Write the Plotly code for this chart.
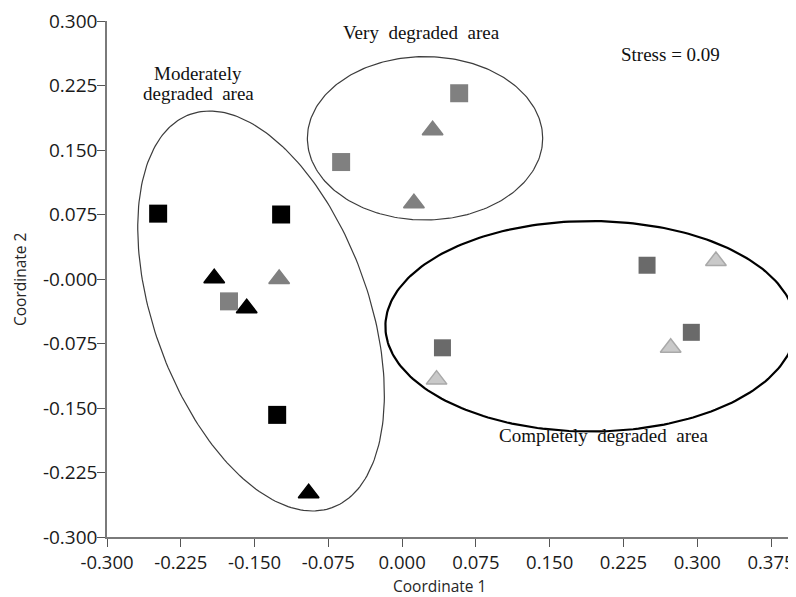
import numpy as np
import plotly.graph_objects as go

# ---------------- data ----------------
mod_sq_x = [-0.248, -0.123, -0.127]
mod_sq_y = [0.076, 0.075, -0.158]
mod_tri_x = [-0.191, -0.158, -0.095]
mod_tri_y = [0.001, -0.034, -0.249]

very_sq_x = [-0.176, -0.062, 0.058]
very_sq_y = [-0.026, 0.136, 0.216]
very_tri_x = [-0.125, 0.031, 0.012]
very_tri_y = [0.000, 0.173, 0.088]

comp_sq_x = [0.249, 0.294, 0.041]
comp_sq_y = [0.016, -0.062, -0.080]
comp_tri_x = [0.319, 0.273, 0.035]
comp_tri_y = [0.021, -0.080, -0.117]

tick_vals = [-0.300, -0.225, -0.150, -0.075, 0.000, 0.075, 0.150, 0.225, 0.300, 0.375]
x_tick_text = ["-0.300", "-0.225", "-0.150", "-0.075", "0.000", "0.075", "0.150", "0.225", "0.300", "0.375"]
y_tick_vals = [-0.300, -0.225, -0.150, -0.075, 0.000, 0.075, 0.150, 0.225, 0.300]
y_tick_text = ["-0.300", "-0.225", "-0.150", "-0.075", "-0.000", "0.075", "0.150", "0.225", "0.300"]

# ---------------- layout geometry ----------------
PAGE_OFF = 8                     # default body margin of the html page
W, H = 796 - PAGE_OFF, 597 - PAGE_OFF
ML, MR, MT, MB = 107 - PAGE_OFF, 0, 21 - PAGE_OFF, 60
XR = [-0.300, 0.4004]
YR = [-0.300, 0.300]
PW, PH = W - ML - MR, H - MT - MB
kx = PW / (XR[1] - XR[0])   # px per unit
ky = PH / (YR[1] - YR[0])

t = np.linspace(0, 2 * np.pi, 241)


def ellipse_axis(cx, cy, rx, ry):
    return cx + rx * np.cos(t), cy + ry * np.sin(t)


def ellipse_tilted(cx, cy, a_px, b_px, ang_deg):
    # tilt defined in screen pixels (major axis from upper-left to lower-right)
    al = np.deg2rad(ang_deg)
    ux, uy = np.sin(al), np.cos(al)        # screen dir of major axis (y down)
    vx, vy = np.cos(al), -np.sin(al)
    dx = a_px * np.cos(t) * ux + b_px * np.sin(t) * vx
    dy = a_px * np.cos(t) * uy + b_px * np.sin(t) * vy
    return cx + dx / kx, cy - dy / ky


fig = go.Figure()

# group outlines
ex, ey = ellipse_tilted(-0.1434, -0.0372, 209.1, 107.2, 19.85)
fig.add_trace(go.Scatter(x=ex, y=ey, mode="lines", line=dict(color="#3c3c3c", width=1.2),
                         hoverinfo="skip", showlegend=False))
ex, ey = ellipse_axis(0.0233, 0.1636, 0.1196, 0.095)
fig.add_trace(go.Scatter(x=ex, y=ey, mode="lines", line=dict(color="#3c3c3c", width=1.2),
                         hoverinfo="skip", showlegend=False))
ex, ey = ellipse_axis(0.1915, -0.055, 0.2085, 0.1224)
fig.add_trace(go.Scatter(x=ex, y=ey, mode="lines", line=dict(color="#000000", width=2.2),
                         hoverinfo="skip", showlegend=False))


def pts(x, y, symbol, color, size, lcolor=None, lw=0):
    fig.add_trace(go.Scatter(
        x=x, y=y, mode="markers", showlegend=False,
        marker=dict(symbol=symbol, size=size, color=color,
                    line=dict(color=lcolor or color, width=lw))))


pts(mod_sq_x, mod_sq_y, "square", "#000000", 18)
pts(mod_tri_x, mod_tri_y, "triangle-up", "#000000", 18, lw=1.5)
pts(very_sq_x, very_sq_y, "square", "#808080", 18)
pts(very_tri_x, very_tri_y, "triangle-up", "#808080", 18, lw=1.5)
pts(comp_sq_x, comp_sq_y, "square", "#6a6a6a", 17)
pts(comp_tri_x, comp_tri_y, "triangle-up", "#c9c9c9", 18, lcolor="#a9a9a9", lw=1.5)

serif = dict(family="Liberation Serif", size=19, color="#111111")
ann = [
    dict(x=-0.2072, y=0.2391, text="Moderately"),
    dict(x=-0.2072, y=0.2160, text="degraded\u00a0 area"),
    dict(x=0.0202, y=0.2864, text="Very\u00a0 degraded\u00a0 area"),
    dict(x=0.2726, y=0.2605, text="Stress = 0.09"),
    dict(x=0.2045, y=-0.1814, text="Completely\u00a0 degraded\u00a0 area"),
]
for a in ann:
    fig.add_annotation(xref="x", yref="y", showarrow=False, xanchor="center", yanchor="middle",
                       font=serif, **a)

sans_title = dict(family="Open Sans", size=15.5, color="#262626")
# axis titles placed in page pixels (converted to paper coordinates)
fig.add_annotation(xref="paper", yref="paper",
                   x=(439 - PAGE_OFF - ML) / PW, y=(MT + PH - (586 - PAGE_OFF)) / PH,
                   text="Coordinate 1", showarrow=False, xanchor="center", yanchor="middle", font=sans_title)
fig.add_annotation(xref="paper", yref="paper", x=(20 - PAGE_OFF - ML) / PW, y=0.5,
                   text="Coordinate 2", showarrow=False, textangle=-90,
                   xanchor="center", yanchor="middle", font=sans_title)

axis_common = dict(showgrid=False, zeroline=False, showline=True, linecolor="#7a7a7a", linewidth=1.5,
                   ticks="outside", ticklen=8, tickwidth=1.3, tickcolor="#555555", automargin=False,
                   ticklabeloverflow="allow")

fig.update_xaxes(range=XR, tickvals=tick_vals, ticktext=x_tick_text,
                 tickfont=dict(family="Open Sans", size=18.5, color="#1a1a1a"), **axis_common)
fig.update_yaxes(range=YR, tickvals=y_tick_vals, ticktext=y_tick_text, ticklabelstandoff=-4,
                 tickfont=dict(family="Open Sans", size=19, color="#1a1a1a"), **axis_common)

fig.update_layout(width=W, height=H, margin=dict(l=ML, r=MR, t=MT, b=MB, autoexpand=False),
                  plot_bgcolor="white", paper_bgcolor="white", showlegend=False)

fig.write_html("out.html")
